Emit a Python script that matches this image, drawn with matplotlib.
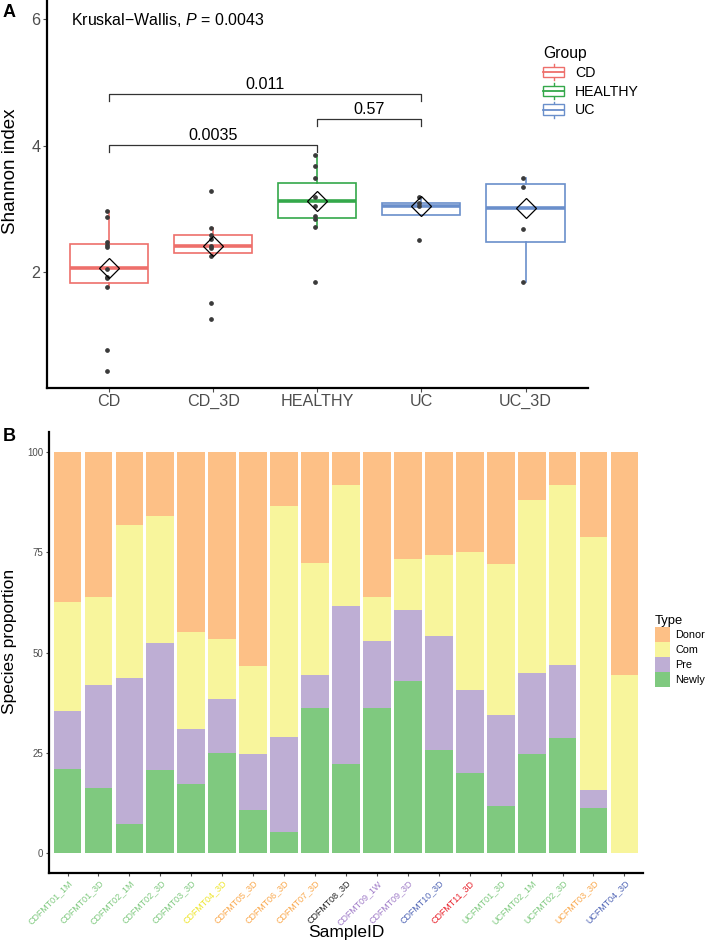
import numpy as np
import matplotlib.pyplot as plt
from matplotlib.patches import Rectangle, Patch
from matplotlib.lines import Line2D
from matplotlib.legend_handler import HandlerBase

plt.rcParams['font.family'] = ['Liberation Sans', 'DejaVu Sans']
plt.rcParams['mathtext.fontset'] = 'custom'
plt.rcParams['mathtext.rm'] = 'Liberation Sans'
plt.rcParams['mathtext.it'] = 'Liberation Sans:italic'

# ---- Panel A data ----
groups = ['CD', 'CD_3D', 'HEALTHY', 'UC', 'UC_3D']
group_cols = ['#EE6F6B', '#EE6F6B', '#34A84A', '#6A8FCB', '#6A8FCB']
pts_cd = [2.96, 2.87, 2.48, 2.43, 2.40, 2.05, 1.93, 1.90, 1.77, 0.77, 0.44]
pts_cd3d = [3.28, 2.69, 2.59, 2.52, 2.42, 2.38, 2.25, 1.52, 1.26]
pts_healthy = [3.85, 3.68, 3.48, 3.18, 3.05, 2.89, 2.84, 2.72, 1.85]
pts_uc = [3.18, 3.10, 3.05, 2.51]
pts_uc3d = [3.48, 3.35, 2.68, 1.85]
box_q1 = [1.83, 2.30, 2.86, 2.90, 2.47]
box_med = [2.06, 2.42, 3.12, 3.05, 3.02]
box_q3 = [2.45, 2.59, 3.41, 3.09, 3.39]
box_lo = [1.77, 2.25, 2.72, 2.90, 1.85]
box_hi = [2.96, 2.69, 3.85, 3.18, 3.48]
box_mark = [2.06, 2.42, 3.12, 3.05, 3.02]
legend_groups = ['CD', 'HEALTHY', 'UC']
legend_cols = ['#EE6F6B', '#34A84A', '#6A8FCB']
brk_pairs = [(0, 2), (2, 3), (0, 3)]
brk_y = [4.01, 4.42, 4.82]
brk_lab = ['0.0035', '0.57', '0.011']

# ---- Panel B data ----
samples = ['CDFMT01_1M', 'CDFMT01_3D', 'CDFMT02_1M', 'CDFMT02_3D', 'CDFMT03_3D',
           'CDFMT04_3D', 'CDFMT05_3D', 'CDFMT06_3D', 'CDFMT07_3D', 'CDFMT08_3D',
           'CDFMT09_1W', 'CDFMT09_3D', 'CDFMT10_3D', 'CDFMT11_3D', 'UCFMT01_3D',
           'UCFMT02_1M', 'UCFMT02_3D', 'UCFMT03_3D', 'UCFMT04_3D']
newly = [20.9, 16.3, 7.3, 20.6, 17.3, 25.0, 10.7, 5.2, 36.2, 22.1, 36.1, 42.9, 25.7, 19.9, 11.6, 24.8, 28.6, 11.1, 0]
pre = [14.5, 25.5, 36.3, 31.8, 13.7, 13.4, 14.0, 23.7, 8.3, 39.5, 16.7, 17.7, 28.5, 20.8, 22.9, 20.2, 18.4, 4.6, 0]
com = [27.1, 22.1, 38.2, 31.7, 24.2, 15.0, 22.0, 57.7, 27.7, 30.2, 11.1, 12.7, 20.1, 34.3, 37.6, 43.0, 44.8, 63.1, 44.3]
donor = [37.5, 36.1, 18.2, 15.9, 44.8, 46.6, 53.3, 13.4, 27.8, 8.2, 36.1, 26.7, 25.7, 25.0, 27.9, 12.0, 8.2, 21.2, 55.7]
type_names = ['Donor', 'Com', 'Pre', 'Newly']
type_cols = ['#FDC086', '#F8F59C', '#BEAED4', '#7FC97F']
lab_cols = ['#7FC97F'] * 5 + ['#EEE52C'] + ['#FAA84C'] * 3 + ['#222222'] + ['#A07CC8'] * 2 + \
           ['#4F64B5', '#E8202A'] + ['#7FC97F'] * 3 + ['#FAA84C', '#4F64B5']


class BoxHandler(HandlerBase):
    def create_artists(self, legend, orig_handle, xdescent, ydescent, width, height, fontsize, trans):
        c = orig_handle.get_edgecolor()
        x0, y0 = -xdescent, -ydescent
        cx = x0 + width / 2
        rect = Rectangle((x0, y0 + 0.17 * height), width, 0.66 * height, fc='white', ec=c, lw=1, transform=trans)
        med = Line2D([x0, x0 + width], [y0 + 0.5 * height] * 2, color=c, lw=1.3, transform=trans)
        w1 = Line2D([cx, cx], [y0, y0 + 0.17 * height], color=c, lw=1, transform=trans)
        w2 = Line2D([cx, cx], [y0 + 0.83 * height, y0 + height], color=c, lw=1, transform=trans)
        return [w1, w2, rect, med]


fig = plt.figure(figsize=(7.09, 9.43), dpi=100)

# ================= Panel A =================
axA = fig.add_axes([0.0659, 0.5886, 0.7634, 0.4114])
stats = []
for i in range(len(groups)):
    stats.append(dict(med=box_med[i], q1=box_q1[i], q3=box_q3[i], whislo=box_lo[i],
                      whishi=box_hi[i], mean=box_mark[i], fliers=[], label=groups[i]))
bp = axA.bxp(stats, positions=range(len(groups)), widths=0.75, showcaps=False, showfliers=False,
             showmeans=True, patch_artist=True,
             meanprops=dict(marker='D', markerfacecolor='none', markeredgecolor='black',
                            markersize=10, markeredgewidth=0.9))
for i, c in enumerate(group_cols):
    bp['boxes'][i].set(facecolor='white', edgecolor=c, linewidth=1.2)
    bp['medians'][i].set(color=c, linewidth=2.6)
    for w in bp['whiskers'][2 * i:2 * i + 2]:
        w.set(color=c, linewidth=1.2)
    bp['means'][i].set_zorder(5)

all_pts = [pts_cd, pts_cd3d, pts_healthy, pts_uc, pts_uc3d]
for i, vals in enumerate(all_pts):
    axA.plot([i - 0.025] * len(vals), vals, 'o', ms=2.4, color='#3a3a3a', zorder=4)

for (a, b), y, lab in zip(brk_pairs, brk_y, brk_lab):
    axA.plot([a, a, b, b], [y - 0.11, y, y, y - 0.11], color='#333333', lw=0.9)
    axA.text((a + b) / 2, y + 0.03, lab, ha='center', va='bottom', fontsize=11.6)

axA.text(-0.365, 5.98, 'Kruskal\u2212Wallis, $P$ = 0.0043', ha='left', va='center', fontsize=11.5)

axA.set_xlim(-0.6, 4.6)
axA.set_ylim(0.17, 6.3)
axA.set_yticks([2, 4, 6])
axA.set_xticks(range(len(groups)))
axA.set_xticklabels(groups)
axA.tick_params(colors='#4D4D4D', labelsize=11.6, length=3, width=0.8, pad=1.5)
axA.set_ylabel('Shannon index', fontsize=13.5)
axA.yaxis.set_label_coords(-0.052, 0.559)
for s in ['top', 'right']:
    axA.spines[s].set_visible(False)
for s in ['left', 'bottom']:
    axA.spines[s].set_linewidth(1.6)

hA = [Patch(edgecolor=c, facecolor='white') for c in legend_cols]
axA.legend(hA, legend_groups, title='Group', handler_map={Patch: BoxHandler()},
           loc='upper left', bbox_to_anchor=(0.766, 0.951), bbox_transform=fig.transFigure,
           frameon=False, fontsize=10.2, title_fontsize=11.3, handlelength=1.48, handleheight=1.36,
           handletextpad=0.77, labelspacing=0.2, borderpad=0, borderaxespad=0, alignment='left')

# ================= Panel B =================
axB = fig.add_axes([0.0691, 0.0742, 0.8378, 0.4677])
x = np.arange(len(samples))
bottom = np.zeros(len(samples))
for vals, col in zip([newly, pre, com, donor], type_cols[::-1]):
    axB.bar(x, vals, width=0.9, bottom=bottom, color=col, linewidth=0)
    bottom += np.array(vals)

axB.set_xlim(-0.6, len(samples) - 0.4)
axB.set_ylim(-5, 105)
axB.set_yticks([0, 25, 50, 75, 100])
axB.set_xticks(x)
axB.set_xticklabels(samples, rotation=45, ha='right', rotation_mode='anchor', fontsize=6.4)
for t, c in zip(axB.get_xticklabels(), lab_cols):
    t.set_color(c)
axB.tick_params(axis='y', colors='#4D4D4D', labelsize=7, length=2.5, width=0.8, pad=1.5)
axB.tick_params(axis='x', length=2.5, width=0.8, color='#4D4D4D', pad=1.5)
axB.set_ylabel('Species proportion', fontsize=12.5)
axB.yaxis.set_label_coords(-0.054, 0.524)
axB.set_xlabel('SampleID', fontsize=12.5)
axB.xaxis.set_label_coords(0.5, -0.118)
for s in ['top', 'right']:
    axB.spines[s].set_visible(False)
for s in ['left', 'bottom']:
    axB.spines[s].set_linewidth(1.6)

hB = [Patch(facecolor=c, edgecolor='none') for c in type_cols]
axB.legend(hB, type_names, title='Type', loc='upper left', bbox_to_anchor=(0.924, 0.3475),
           bbox_transform=fig.transFigure, frameon=False, fontsize=7.8, title_fontsize=9.4,
           handlelength=1.4, handleheight=1.75, handletextpad=0.45, labelspacing=0,
           borderpad=0, borderaxespad=0, alignment='left')

fig.text(0.004, 1 - 12.5 / 943, 'A', fontsize=13, fontweight='bold', va='center', ha='left')
fig.text(0.004, 1 - 437 / 943, 'B', fontsize=13, fontweight='bold', va='center', ha='left')

fig.savefig('out.png', dpi=100)
